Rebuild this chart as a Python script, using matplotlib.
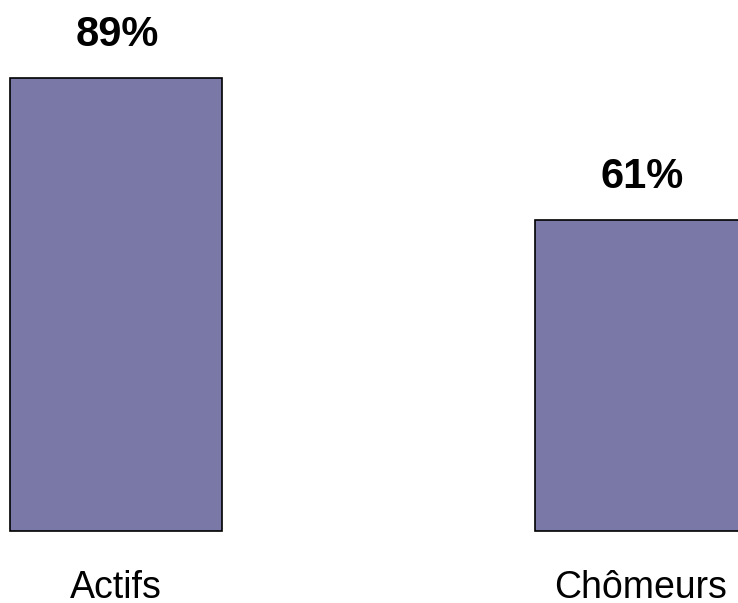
import matplotlib
matplotlib.use("Agg")
import matplotlib.pyplot as plt

categories = ["Actifs", "Chômeurs"]
values = [89, 61]
value_labels = ["89%", "61%"]

plt.rcParams["font.family"] = ["Liberation Sans", "DejaVu Sans"]

fig = plt.figure(figsize=(7.38, 6.03), dpi=100)
ax = fig.add_axes([0, 0, 1, 1])

x = list(range(len(categories)))
bar_w = 0.404
ax.bar(x, values, width=bar_w, color="#7a78a6", edgecolor="black",
       linewidth=1.2)

ax.set_xlim(-0.221, 1.185)
ax.set_ylim(-14.15, 104.3)
ax.axis("off")

for xi, v, lab in zip(x, values, value_labels):
    ax.annotate(lab, (xi, v), xytext=(1, 23), textcoords="offset points",
                ha="center", va="baseline", fontsize=30, fontweight="bold")

for xi, cat in zip(x, categories):
    ax.annotate(cat, (xi, 0), xytext=(0, -48), textcoords="offset points",
                ha="center", va="baseline", fontsize=27)

fig.savefig("out.png", dpi=100, facecolor="white")
